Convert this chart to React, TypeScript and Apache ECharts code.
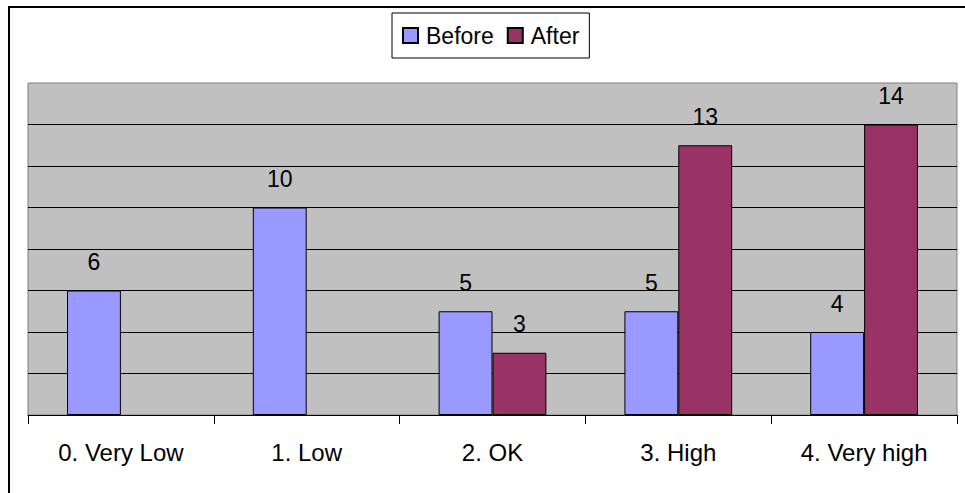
import React, { useEffect, useRef } from "react";
import * as echarts from "echarts";

// Survey ratings before and after
const categories = ["0. Very Low", "1. Low", "2. OK", "3. High", "4. Very high"];
const beforeValues: (number | null)[] = [6, 10, 5, 5, 4];
const afterValues: (number | null)[] = [null, null, 3, 13, 14];
const seriesNames = ["Before", "After"];

const FONT = "Arial, 'Liberation Sans', sans-serif";

export default function App() {
  const ref = useRef<HTMLDivElement>(null);

  useEffect(() => {
    if (!ref.current) return;
    const chart = echarts.init(ref.current, null, { renderer: "svg" });

    const barLabel = {
      show: true,
      position: "top" as const,
      distance: 17,
      color: "#000",
      fontSize: 23,
      fontFamily: FONT,
    };

    chart.setOption({
      animation: false,
      backgroundColor: "#fff",
      textStyle: { fontFamily: FONT },
      graphic: [
        {
          type: "rect",
          z: 0,
          silent: true,
          shape: { x: 9, y: 7, width: 1000, height: 1000 },
          style: { fill: "none", stroke: "#000", lineWidth: 2 },
        },
      ],
      legend: {
        left: 392,
        top: 13,
        padding: [11, 10, 11, 10],
        borderColor: "#000",
        borderWidth: 1,
        itemWidth: 15,
        itemHeight: 15,
        itemGap: 13,
        icon: "rect",
        data: seriesNames,
        textStyle: {
          color: "#000",
          fontSize: 23,
          fontFamily: FONT,
          padding: [0, 0, 0, 3],
        },
      },
      grid: {
        left: 28,
        right: 8,
        top: 83,
        bottom: 78,
        show: true,
        backgroundColor: "#C0C0C0",
        borderColor: "#808080",
        borderWidth: 1,
        containLabel: false,
        outerBoundsMode: "none",
      },
      xAxis: {
        type: "category",
        data: categories,
        axisLine: { show: true, lineStyle: { color: "#000", width: 1 } },
        axisTick: { show: true, length: 9, lineStyle: { color: "#000" } },
        axisLabel: {
          color: "#000",
          fontSize: 24,
          fontFamily: FONT,
          margin: 25,
          interval: 0,
        },
        splitLine: { show: false },
      },
      yAxis: {
        type: "value",
        min: 0,
        max: 16,
        interval: 2,
        axisLine: { show: false },
        axisTick: { show: false },
        axisLabel: { show: false },
        splitLine: {
          show: true,
          showMaxLine: false,
          lineStyle: { color: "#000", width: 1 },
        },
      },
      series: [
        {
          name: seriesNames[0],
          type: "bar",
          data: beforeValues,
          barGap: "0%",
          barCategoryGap: "42%",
          itemStyle: { color: "#9999FF", borderColor: "#000", borderWidth: 1 },
          label: barLabel,
        },
        {
          name: seriesNames[1],
          type: "bar",
          data: afterValues,
          barGap: "0%",
          barCategoryGap: "42%",
          itemStyle: { color: "#993366", borderColor: "#000", borderWidth: 1 },
          label: barLabel,
        },
      ],
    });

    return () => chart.dispose();
  }, []);

  return (
    <div
      ref={ref}
      style={{ position: "absolute", left: 0, top: 0, width: 965, height: 493 }}
    />
  );
}
